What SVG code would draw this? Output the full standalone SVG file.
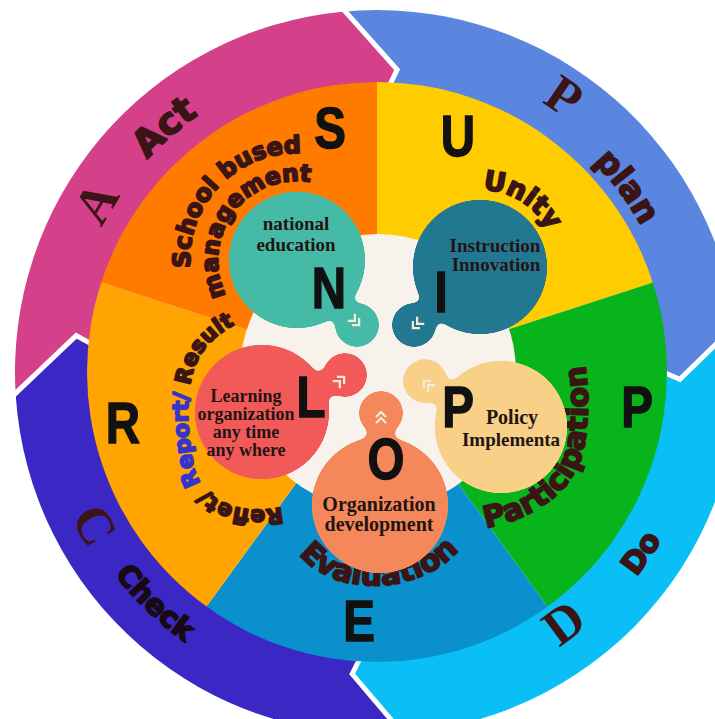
<svg xmlns="http://www.w3.org/2000/svg" width="715" height="719" viewBox="0 0 715 719">
<style>
.heavy{font-family:"DejaVu Sans","Liberation Sans",sans-serif;font-weight:bold;fill:#3b1515;stroke:#3b1515;stroke-width:1.8;stroke-linejoin:round}
.serifbig{font-family:"Liberation Serif","DejaVu Serif",serif;font-weight:bold;fill:#3b1515;font-size:52px;text-anchor:middle}
.big{font-family:"Liberation Sans",Arial,sans-serif;font-weight:bold;fill:#111;stroke:#111;stroke-width:1.4;font-size:58px;text-anchor:middle}
.ct{font-family:"Liberation Serif","DejaVu Serif",serif;font-weight:bold;fill:#231414;text-anchor:middle}
.sep{fill:none;stroke:#fff;stroke-width:5}
.chev{fill:none;stroke:#f6ead8;stroke-width:2.2}
</style>
<defs>
<filter id="goo" x="-20%" y="-20%" width="140%" height="140%" color-interpolation-filters="sRGB">
<feGaussianBlur in="SourceGraphic" stdDeviation="4"/>
<feColorMatrix type="matrix" values="1 0 0 0 0 0 1 0 0 0 0 0 1 0 0 0 0 0 20 -9"/>
</filter>
<path id="chv" d="M-8,-5 L-3,0 L-8,5 M-2,-5 L3,0 L-2,5"/>
<path id="pAct" d="M67.9,323 A313,313 0 0 1 371.5,59"/>
<path id="pPlan" d="M447.5,78.3 A302,302 0 0 1 678.4,390.4"/>
<path id="pDo" d="M465.7,689.9 A329,329 0 0 0 705.4,339.8"/>
<path id="pCheck" d="M47.9,407.2 A330,330 0 0 0 354.5,702.2"/>
<path id="pUnity" d="M466.6,191.2 A76,76 0 0 1 554,245.8"/>
<path id="pSchool" d="M194.1,289.5 A107,107 0 0 1 322.9,156.2"/>
<path id="pMgmt" d="M236.5,310.8 A79,79 0 0 1 327.9,187.3"/>
<path id="pReflet" d="M282,507 C240,516 200,502 193,462 C186,425 186,392 195,366 C205,342 224,327 252,318"/>
<path id="pPart" d="M486,528 C530,519 569,497 582,455 C589,430 590,395 584,358"/>
<path id="pEval" d="M296,550 C328,598 422,598 462,546"/>
</defs>

<rect width="715" height="719" fill="#ffffff"/>

<g id="ring-act">
<path d="M15.8,396.6 A362,362 0 0 1 342.3,11.7 L397.1,69.7 L390.1,84.3 A288,288 0 0 0 90.4,343.4 L76.2,335.6 Z" fill="#d4408a"/>
</g>
<g id="ring-plan">
<path d="M342.3,11.7 A362,362 0 0 1 735.5,321.6 L679.9,379.4 L665,373 A288,288 0 0 0 390.1,84.3 L397.1,69.7 Z" fill="#5a86df"/>
</g>
<g id="ring-do">
<path d="M735.5,321.6 A362,362 0 0 1 405.4,732.9 L352.2,674 L359.4,659.5 A288,288 0 0 0 665,373 L679.9,379.4 Z" fill="#0abff5"/>
</g>
<g id="ring-check">
<path d="M405.4,732.9 A362,362 0 0 1 15.8,396.6 L76.2,335.6 L90.4,343.4 A288,288 0 0 0 359.4,659.5 L352.2,674 Z" fill="#3b27c3"/>
</g>
<g id="separators">
<polyline class="sep" points="341.9,7.7 397.1,69.7 390.1,84.3"/>
<polyline class="sep" points="739.4,321.1 679.9,379.4 665,373"/>
<polyline class="sep" points="405.7,736.9 352.2,674 359.4,659.5"/>
<polyline class="sep" points="11.8,396.9 76.2,335.6 90.4,343.4"/>
</g>

<g id="pie">
<path id="seg-U" d="M377,372 L377,82 A290,290 0 0 1 652.8,282.4 Z" fill="#ffcc00"/>
<path id="seg-P" d="M377,372 L652.8,282.4 A290,290 0 0 1 547.5,606.6 Z" fill="#08b41c"/>
<path id="seg-E" d="M377,372 L547.5,606.6 A290,290 0 0 1 206.5,606.6 Z" fill="#0a90cc"/>
<path id="seg-R" d="M377,372 L206.5,606.6 A290,290 0 0 1 101.2,282.4 Z" fill="#ffa400"/>
<path id="seg-S" d="M377,372 L101.2,282.4 A290,290 0 0 1 377,82 Z" fill="#ff7b00"/>
<circle id="core" cx="378" cy="372" r="138" fill="#f8f2ec"/>
</g>

<g id="ring-labels">
<text class="serifbig" transform="translate(96.5,203) rotate(-58.9)" y="17">A</text>
<text class="heavy" font-size="37"><textPath href="#pAct" startOffset="50%" text-anchor="middle">Act</textPath></text>
<text class="serifbig" transform="translate(564,96.5) rotate(34.2)" y="17">P</text>
<text class="heavy" font-size="33"><textPath href="#pPlan" startOffset="50%" text-anchor="middle">plan</textPath></text>
<text class="serifbig" transform="translate(564,623) rotate(-36.7)" y="17">D</text>
<text class="heavy" font-size="30"><textPath href="#pDo" startOffset="50%" text-anchor="middle">Do</textPath></text>
<text class="serifbig" transform="translate(94.5,525.5) rotate(61.5)" y="17">C</text>
<text class="heavy" font-size="29" style="fill:#170a12;stroke:#170a12"><textPath href="#pCheck" startOffset="50%" text-anchor="middle">Check</textPath></text>
</g>

<g id="segment-labels">
<text class="big" transform="translate(330,148) scale(0.82,1)">S</text>
<text class="big" transform="translate(458,156) scale(0.82,1)">U</text>
<text class="big" transform="translate(637,427) scale(0.82,1)">P</text>
<text class="big" transform="translate(359,641) scale(0.82,1)">E</text>
<text class="big" transform="translate(123,443) scale(0.82,1)">R</text>
<text class="heavy" font-size="24"><textPath href="#pSchool" startOffset="50%" text-anchor="middle">School bused</textPath></text>
<text class="heavy" font-size="23.5"><textPath href="#pMgmt" startOffset="50%" text-anchor="middle">management</textPath></text>
<text class="heavy" font-size="27"><textPath href="#pUnity" startOffset="50%" text-anchor="middle">Unity</textPath></text>
<text class="heavy" font-size="30"><textPath href="#pPart">Participation</textPath></text>
<text class="heavy" font-size="30"><textPath href="#pEval" startOffset="50%" text-anchor="middle">Evaluation</textPath></text>
<text class="heavy" font-size="22"><textPath href="#pReflet">Reflet/ <tspan style="fill:#3535cc;stroke:#3535cc">Report/</tspan> Result</textPath></text>
</g>

<g id="node-N">
<g filter="url(#goo)" fill="#45bba7">
<circle cx="297" cy="260" r="68"/><circle cx="357" cy="325" r="22"/><circle cx="343" cy="310" r="13"/>
</g>
<use href="#chv" class="chev" transform="translate(357,323) rotate(45)"/>
<text class="ct" font-size="19" x="296" y="230">national</text>
<text class="ct" font-size="19" x="296" y="251">education</text>
<text class="big" transform="translate(329,308) scale(0.82,1)">N</text>
</g>

<g id="node-I">
<g filter="url(#goo)" fill="#237891">
<circle cx="480" cy="267" r="67"/><circle cx="414" cy="325" r="22"/><circle cx="430" cy="311" r="13"/>
</g>
<use href="#chv" class="chev" transform="translate(415,326) rotate(135)"/>
<text class="ct" font-size="19" x="495" y="252">Instruction</text>
<text class="ct" font-size="19" x="496" y="271">Innovation</text>
<text class="big" transform="translate(441,312) scale(0.82,1)">I</text>
</g>

<g id="node-L">
<g filter="url(#goo)" fill="#f25a5a">
<circle cx="262" cy="412" r="67"/><circle cx="345" cy="375" r="22"/><circle cx="323" cy="385" r="13"/>
</g>
<use href="#chv" class="chev" transform="translate(342,379) rotate(-45)"/>
<text class="ct" font-size="18" x="246" y="402">Learning</text>
<text class="ct" font-size="18" x="246" y="420">organization</text>
<text class="ct" font-size="18" x="246" y="438">any time</text>
<text class="ct" font-size="18" x="246" y="456">any where</text>
<text class="big" transform="translate(311,417) scale(0.82,1)">L</text>
</g>

<g id="node-P">
<g filter="url(#goo)" fill="#f8d087">
<circle cx="501" cy="427" r="66"/><circle cx="425" cy="381" r="22"/><circle cx="444" cy="393" r="13"/>
</g>
<use href="#chv" class="chev" transform="translate(426,383) rotate(-135)"/>
<text class="ct" font-size="20" x="512" y="424">Policy</text>
<text class="ct" font-size="19" x="511" y="446">Implementa</text>
<text class="big" transform="translate(458,427) scale(0.82,1)">P</text>
</g>

<g id="node-O">
<g filter="url(#goo)" fill="#f4885a">
<circle cx="380" cy="505" r="68"/><circle cx="381" cy="413" r="22"/><circle cx="381" cy="437" r="13"/>
</g>
<use href="#chv" class="chev" transform="translate(381,415) rotate(-90)"/>
<text class="big" transform="translate(386,479) scale(0.82,1)">O</text>
<text class="ct" font-size="20" x="379" y="511">Organization</text>
<text class="ct" font-size="20" x="379" y="531">development</text>
</g>
</svg>
